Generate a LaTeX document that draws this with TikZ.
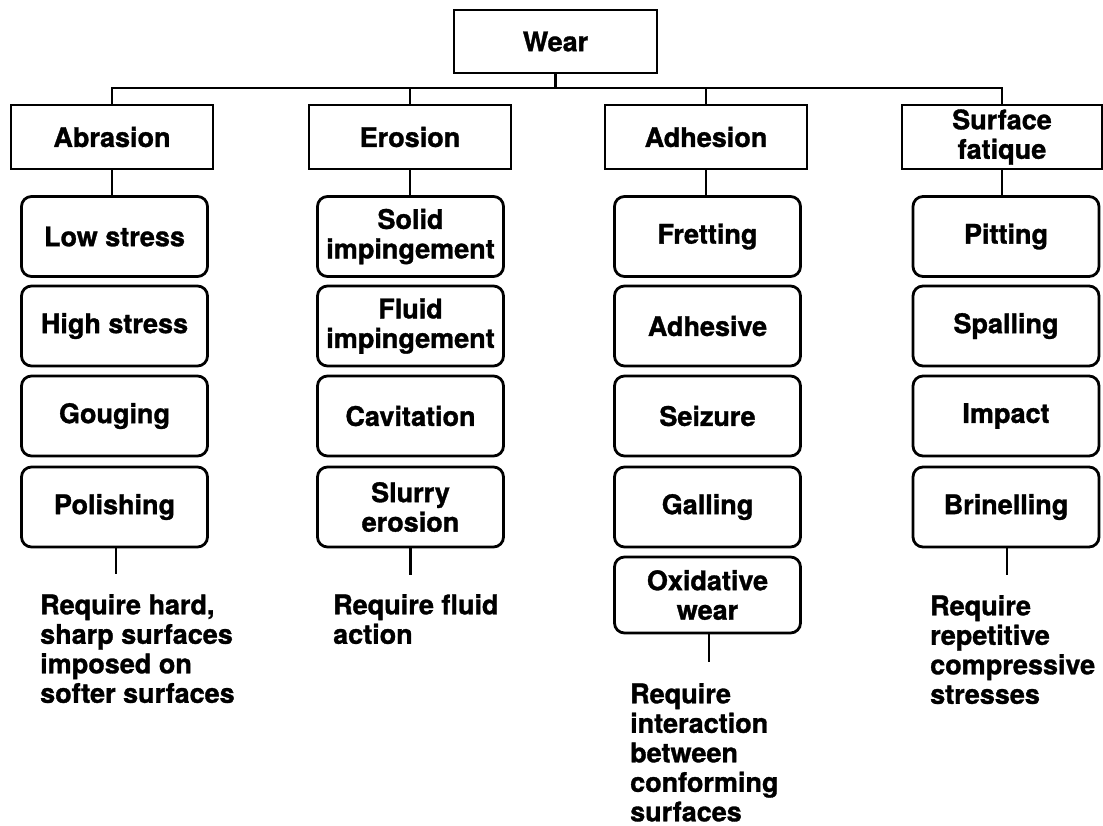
\documentclass[tikz,border=0pt]{standalone}
\usepackage{fontspec}
\setmainfont{TeX Gyre Heros}[BoldFeatures={FakeBold=1.2}]
\begin{document}
\begin{tikzpicture}[x=1pt,y=-1pt,
  every node/.style={font=\fontsize{27}{29.5}\selectfont\bfseries, inner sep=0pt},
  catbox/.style={draw, line width=2.8pt, minimum width=202pt, minimum height=64pt, align=center},
  typebox/.style={draw, line width=2.8pt, rounded corners=10pt, minimum width=186pt, minimum height=80pt, align=center},
  link/.style={line width=2.2pt},
  note/.style={anchor=north west, align=left}]
\useasboundingbox[fill=white] (0,0) rectangle (1103,825);

% top
\node[catbox, minimum width=203pt, minimum height=63pt] (wear) at (555.5,41.5) {Wear};
% categories
\node[catbox] (abr) at (112,137) {Abrasion};
\node[catbox] (ero) at (410,137) {Erosion};
\node[catbox] (adh) at (706,137) {Adhesion};
\node[catbox, minimum width=200pt] (fat) at (1002,137) {Surface\\fatique};

% abrasion column
\node[typebox] (a1) at (114.5,236.5) {Low stress};
\node[typebox] (a2) at (114.5,326) {High stress};
\node[typebox] (a3) at (114.5,416) {Gouging};
\node[typebox] (a4) at (114.5,507) {Polishing};
% erosion column
\node[typebox] (e1) at (410.5,236.5) {Solid\\impingement};
\node[typebox] (e2) at (410.5,326) {Fluid\\impingement};
\node[typebox] (e3) at (410.5,416) {Cavitation};
\node[typebox] (e4) at (410.5,507) {Slurry\\erosion};
% adhesion column
\node[typebox] (d1) at (707.5,236.5) {Fretting};
\node[typebox] (d2) at (707.5,326) {Adhesive};
\node[typebox] (d3) at (707.5,416) {Seizure};
\node[typebox] (d4) at (707.5,507) {Galling};
\node[typebox, minimum height=76pt] (d5) at (707.5,595) {Oxidative\\wear};
% fatigue column
\node[typebox] (f1) at (1006,236.5) {Pitting};
\node[typebox] (f2) at (1006,326) {Spalling};
\node[typebox] (f3) at (1006,416) {Impact};
\node[typebox] (f4) at (1006,507) {Brinelling};

% bus
\coordinate (bus) at (555.5,88);
\draw[link] (wear.south) -- (bus);
\draw[link] (abr.north) -- (abr.north |- bus) -| (fat.north);
\draw[link] (ero.north) -- (ero.north |- bus);
\draw[link] (adh.north) -- (adh.north |- bus);

% category to first type
\draw[link] (abr.south) -- (abr.south |- a1.north);
\draw[link] (ero.south) -- (ero.south |- e1.north);
\draw[link] (adh.south) -- (adh.south |- d1.north);
\draw[link] (fat.south) -- (fat.south |- f1.north);

% bottom stubs
\coordinate (ea) at (116,574);
\coordinate (ee) at (410.5,575);
\coordinate (ed) at (709,662);
\coordinate (ef) at (1007,575);
\draw[link] (a4.south -| ea) -- (ea);
\draw[link] (e4.south -| ee) -- (ee);
\draw[link] (d5.south -| ed) -- (ed);
\draw[link] (f4.south -| ef) -- (ef);

% notes
\node[note] (t1) at (40,594) {Require hard,\\sharp surfaces\\imposed on\\softer surfaces};
\node[note] (t2) at (333,594) {Require fluid\\action};
\node[note] (t3) at (630,683) {Require\\interaction\\between\\conforming\\surfaces};
\node[note] (t4) at (930,595) {Require\\repetitive\\compressive\\stresses};
\end{tikzpicture}
\end{document}
